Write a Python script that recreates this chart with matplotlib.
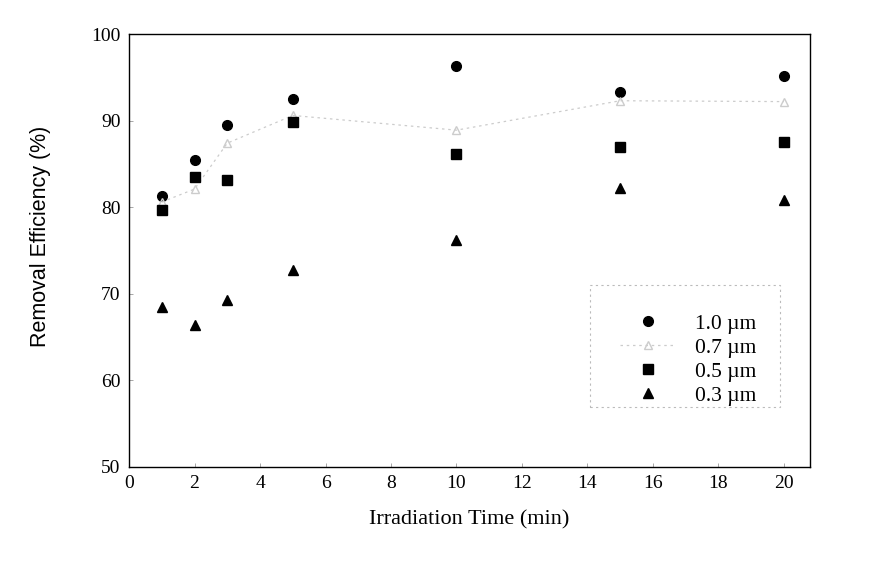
import matplotlib
matplotlib.use("Agg")
import matplotlib.pyplot as plt
from matplotlib.patches import Rectangle

# Irradiation time (min)
t = [1, 2, 3, 5, 10, 15, 20]

# Removal efficiency (%) for each particle size
eff_10 = [81.3, 85.4, 89.5, 92.5, 96.3, 93.3, 95.2]
eff_07 = [80.6, 82.1, 87.4, 90.6, 88.9, 92.3, 92.2]
eff_05 = [79.7, 83.5, 83.1, 89.8, 86.1, 87.0, 87.5]
eff_03 = [68.5, 66.4, 69.3, 72.8, 76.2, 82.2, 80.8]

labels = ['1.0 µm', '0.7 µm', '0.5 µm', '0.3 µm']

plt.rcParams['font.family'] = ['Liberation Serif', 'DejaVu Serif']

fig = plt.figure(figsize=(8.72, 5.68), dpi=100)
ax = fig.add_axes([0.148, 0.178, 0.781, 0.762])

ax.plot(t, eff_10, 'o', color='black', markersize=7, linestyle='none', label=labels[0])
ax.plot(t, eff_07, '^', color='#cccccc', markerfacecolor='none', markersize=6,
        linestyle=(0, (2, 3)), linewidth=0.9, label=labels[1])
ax.plot(t, eff_05, 's', color='black', markersize=6.5, linestyle='none', label=labels[2])
ax.plot(t, eff_03, '^', color='black', markersize=7, linestyle='none', label=labels[3])

ax.set_xlim(0, 20.8)
ax.set_ylim(50, 100)
ax.set_xticks(range(0, 21, 2))
ax.set_yticks(range(50, 101, 10))
ax.tick_params(direction='in', length=3, width=0.6, colors='#999999',
               labelcolor='black', labelsize=14, pad=6)

for s in ax.spines.values():
    s.set_linewidth(1.0)
    s.set_color('black')

ax.set_xlabel('Irradiation Time (min)', fontsize=16)
ax.xaxis.set_label_coords(0.5, -0.1)
ax.set_ylabel('Removal Efficiency (%)', fontsize=15.5,
              family=['Liberation Sans', 'DejaVu Sans'])
ax.yaxis.set_label_coords(-0.115, 0.533)

# legend entries without frame, plus a separate dashed box around them
leg = ax.legend(loc='center', bbox_to_anchor=(0.821, 0.248), fontsize=15.5,
                frameon=False, handlelength=2.6, handletextpad=0.9,
                labelspacing=0.18, borderpad=0)
ax.add_patch(Rectangle((0.677, 0.139), 0.279, 0.281, transform=ax.transAxes,
                       fill=False, edgecolor='#bbbbbb', linewidth=0.8,
                       linestyle=(0, (2, 3))))

fig.savefig('out.png', dpi=100)
